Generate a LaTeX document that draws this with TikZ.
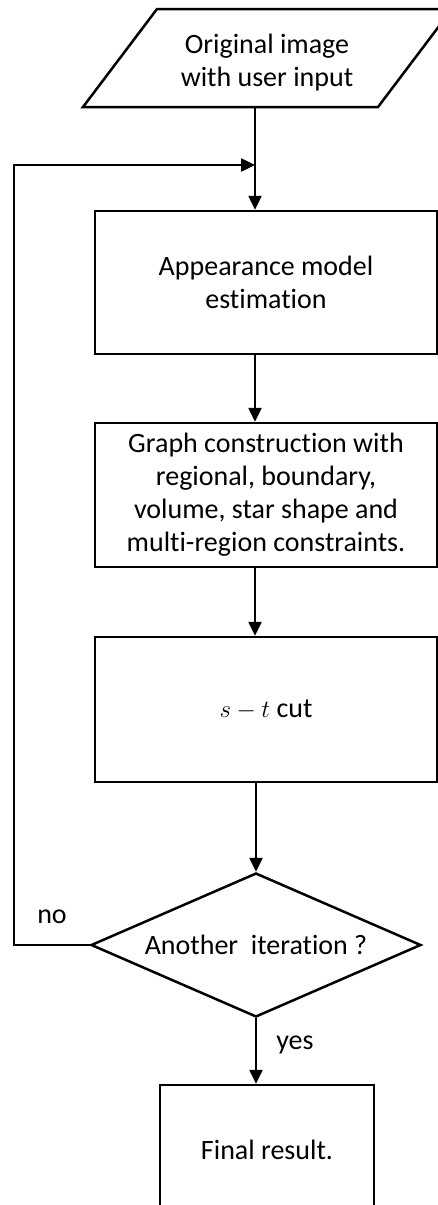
\documentclass[tikz,border=0pt]{standalone}
\usepackage{fontspec}
\setmainfont{Carlito}[Ligatures=NoCommon]
\usetikzlibrary{arrows.meta,shapes.geometric}
\begin{document}
\begin{tikzpicture}[x=1pt,y=-1pt,
  line width=2.5pt,
  every node/.style={font=\fontsize{28}{33}\selectfont, align=center},
  stepbox/.style={draw, rectangle, inner sep=0pt},
  arr/.style={-{Triangle[length=14pt,width=13pt]}},
]
\clip (0,0) rectangle (438,1205);

% main flow axis, feedback merge point and loop-back column
\coordinate (axis) at (255,0);
\coordinate (merge) at (255,165);
\coordinate (loop) at (14,0);

% input parallelogram
\draw (83,107) -- (157,9) -- (452,9) -- (378,107) -- cycle;
\node (input) at (267,63) {Original image\\with user input};
\coordinate (inbot) at (255,107);

% process boxes
\node[stepbox, minimum width=342pt, minimum height=143pt] (app) at (266,282.5)
  {Appearance model\\estimation};
\node[stepbox, minimum width=342pt, minimum height=144pt] (graph) at (266,495)
  {Graph construction with\\regional, boundary,\\volume, star shape and\\multi-region constraints.};
\node[stepbox, minimum width=342pt, minimum height=145pt] (cut) at (266,709.5)
  {$s-t$ cut};

% decision
\node[diamond, draw, minimum width=330pt, minimum height=144pt, aspect=2.3, inner sep=0pt]
  (dec) at (256,945) {Another\ \ iteration ?};

% output
\node[stepbox, minimum width=214pt, minimum height=130pt] (final) at (267,1150)
  {Final result.};

% connectors
\draw[arr] (inbot) -- (app.north -| inbot);
\draw[arr] (app.south -| axis) -- (graph.north -| axis);
\draw[arr] (graph.south -| axis) -- (cut.north -| axis);
\draw[arr] (cut.south -| dec.north) -- (dec.north);
\draw[arr] (dec.south) -- (final.north -| dec.south);
\draw[arr] (dec.west) -- (dec.west -| loop) -- (merge -| loop) -- (merge);

% branch labels
\node (nolab) at (52,917) {no};
\node (yeslab) at (295,1045) {yes};
\end{tikzpicture}
\end{document}
